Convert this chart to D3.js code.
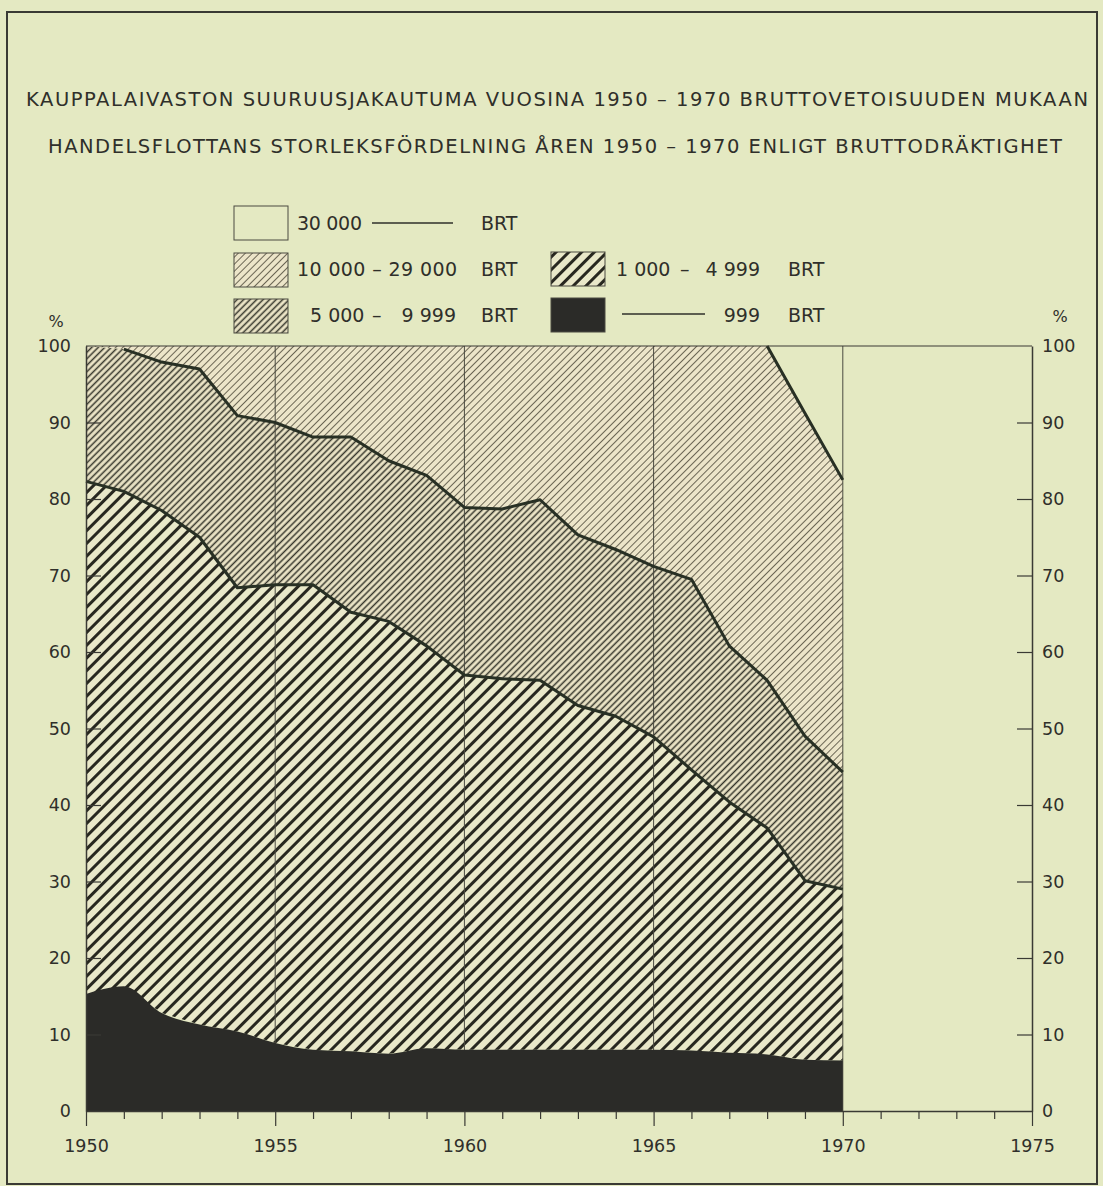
<!DOCTYPE html>
<html>
<head>
<meta charset="utf-8">
<script src="https://cdn.jsdelivr.net/npm/d3@7"></script>
<style>
  html, body { margin: 0; padding: 0; background: #e4e9c2; }
  svg { display: block; }
  text { font-family: "DejaVu Sans", "Liberation Sans", sans-serif; fill: #2f2f2a; }
</style>
</head>
<body>
<script>
// ---- DATA ----
const years = d3.range(1950, 1971);
// share (%) of gross tonnage by size class
const under999 = [15.3,16.3,12.8,11.3,10.4,8.9,8.0,7.8,7.5,8.2,8.0,8.0,8.0,8.0,8.0,8.0,7.9,7.6,7.4,6.7,6.6];
const from1000to4999 = [67.0,64.7,65.7,63.7,58.0,59.9,60.8,57.4,56.5,52.6,49.0,48.5,48.3,45.0,43.6,40.9,36.7,32.8,29.6,23.4,22.4];
const from5000to9999 = [17.7,18.6,19.4,22.0,22.5,21.2,19.3,22.9,21.0,22.3,21.9,22.2,23.6,22.3,21.8,22.3,24.9,20.4,19.3,18.9,15.3];
const from10000to29000 = [0.0,0.4,2.1,3.0,9.1,10.0,11.9,11.9,15.0,16.9,21.1,21.3,20.1,24.7,26.6,28.8,30.5,39.2,43.7,42.2,38.2];
const over30000 = [0,0,0,0,0,0,0,0,0,0,0,0,0,0,0,0,0,0,0,8.8,17.5];
const seriesKeys = ["under999","c1000","c5000","c10000","c30000"];
const yTicks = [0,10,20,30,40,50,60,70,80,90,100];
const xMajor = [1950,1955,1960,1965,1970,1975];
const titleFi = "KAUPPALAIVASTON SUURUUSJAKAUTUMA VUOSINA 1950 – 1970 BRUTTOVETOISUUDEN MUKAAN";
const titleSv = "HANDELSFLOTTANS STORLEKSFÖRDELNING ÅREN 1950 – 1970 ENLIGT BRUTTODRÄKTIGHET";

const table = years.map((y, i) => ({
  year: y, under999: under999[i], c1000: from1000to4999[i], c5000: from5000to9999[i],
  c10000: from10000to29000[i], c30000: over30000[i]
}));

// ---- LAYOUT ----
const W = 1103, H = 1186;
const svg = d3.select("body").append("svg").attr("width", W).attr("height", H);
svg.append("rect").attr("width", W).attr("height", H).attr("fill", "#e4e9c2");

const x = d3.scaleLinear().domain([1950, 1975]).range([86, 1032]);
const y = d3.scaleLinear().domain([0, 100]).range([1111, 346]);

// frame
svg.append("rect").attr("x", 7).attr("y", 12).attr("width", 1090).attr("height", 1172)
  .attr("fill", "none").attr("stroke", "#3a3a34").attr("stroke-width", 2);

// titles
svg.append("text").attr("x", 557).attr("y", 106).attr("text-anchor", "middle")
  .attr("font-size", 19.5).attr("textLength", 1062).attr("lengthAdjust", "spacing").text(titleFi);
svg.append("text").attr("x", 555).attr("y", 153).attr("text-anchor", "middle")
  .attr("font-size", 19.5).attr("textLength", 1014).attr("lengthAdjust", "spacing").text(titleSv);

// patterns
const defs = svg.append("defs");
function hatch(id, spacing, width, color, bg) {
  const p = defs.append("pattern").attr("id", id).attr("patternUnits", "userSpaceOnUse")
    .attr("width", spacing).attr("height", spacing).attr("patternTransform", "rotate(45)");
  p.append("rect").attr("width", spacing).attr("height", spacing).attr("fill", bg);
  p.append("line").attr("x1", spacing/2).attr("x2", spacing/2).attr("y1", -1).attr("y2", spacing+1)
    .attr("stroke", color).attr("stroke-width", width);
}
hatch("h10000", 5.0, 0.9, "#5c5847", "#ece5c9");
hatch("h5000", 4.6, 1.5, "#34342a", "#ebe4c6");
hatch("h1000", 9.0, 3.0, "#27271f", "#e9e8c9");

const stack = d3.stack().keys(seriesKeys);
const layers = stack(table);
const fills = { under999: "#2b2b28", c1000: "url(#h1000)", c5000: "url(#h5000)", c10000: "url(#h10000)", c30000: "none" };

const areaLin = d3.area().x(d => x(d.data.year)).y0(d => y(d[0])).y1(d => y(d[1]));
const areaSmooth = d3.area().curve(d3.curveMonotoneX).x(d => x(d.data.year)).y0(d => y(d[0])).y1(d => y(d[1]));

// hatched layers
layers.filter(l => l.key !== "under999" && l.key !== "c30000").forEach(l => {
  svg.append("path").attr("d", areaLin(l)).attr("fill", fills[l.key]).attr("stroke", "none");
});

// gridlines
[1955, 1960, 1965, 1970].forEach(yr => {
  svg.append("line").attr("x1", x(yr)).attr("x2", x(yr)).attr("y1", y(100)).attr("y2", y(0))
    .attr("stroke", "#4a4a40").attr("stroke-width", 1);
});

// black layer
svg.append("path").attr("d", areaSmooth(layers[0])).attr("fill", fills.under999);

// boundary lines
const lineGen = d3.line().x(d => x(d.data.year)).y(d => y(d[1]));
function boundary(layer, startIdx) {
  svg.append("path").attr("d", lineGen(layer.slice(startIdx))).attr("fill", "none")
    .attr("stroke", "#283024").attr("stroke-width", 3).attr("stroke-linejoin", "round");
}
boundary(layers[1], 0);
boundary(layers[2], 1);
boundary(layers[3], 18);

// axes
const axisColor = "#3a3a34";
svg.append("line").attr("x1", x(1950)).attr("x2", x(1975)).attr("y1", y(100)).attr("y2", y(100))
  .attr("stroke", axisColor).attr("stroke-width", 1.2);

const gL = svg.append("g").attr("transform", `translate(${x(1950)},0)`)
  .call(d3.axisLeft(y).tickValues(yTicks).tickSizeInner(-15).tickSizeOuter(0).tickPadding(15));
const gR = svg.append("g").attr("transform", `translate(${x(1975)},0)`)
  .call(d3.axisRight(y).tickValues(yTicks).tickSizeInner(-15).tickSizeOuter(0).tickPadding(10));
const gB = svg.append("g").attr("transform", `translate(0,${y(0)})`)
  .call(d3.axisBottom(x).tickValues(d3.range(1950, 1976)).tickSizeOuter(0).tickSizeInner(8)
    .tickPadding(20).tickFormat(d => xMajor.includes(d) ? String(d) : ""));
gB.selectAll(".tick line").attr("y2", d => xMajor.includes(d) ? 15 : 8);

[gL, gR, gB].forEach(g => {
  g.select(".domain").attr("stroke", axisColor).attr("stroke-width", 1.5);
  g.selectAll(".tick line").attr("stroke", axisColor).attr("stroke-width", 1.2);
  g.selectAll(".tick text").attr("font-size", 17.5).attr("fill", "#2f2f2a")
    .attr("font-family", "DejaVu Sans, sans-serif");
});
gL.selectAll(".tick").filter(d => d === 0 || d === 100).select("line").remove();
gR.selectAll(".tick").filter(d => d === 0 || d === 100).select("line").remove();
gB.selectAll(".tick text").attr("dy", "0.71em").attr("y", 29);

svg.append("text").attr("x", 56).attr("y", 327).attr("text-anchor", "middle").attr("font-size", 16).text("%");
svg.append("text").attr("x", 1060).attr("y", 322).attr("text-anchor", "middle").attr("font-size", 16).text("%");

// legend
const lg = svg.append("g");
function box(bx, by, fill) {
  lg.append("rect").attr("x", bx).attr("y", by).attr("width", 54).attr("height", 34)
    .attr("fill", fill).attr("stroke", "#4a4a40").attr("stroke-width", 1);
}
function txt(tx, ty, s, anchor, len) {
  const t = lg.append("text").attr("x", tx).attr("y", ty).attr("font-size", 19)
    .attr("text-anchor", anchor || "start").text(s);
  if (len) t.attr("textLength", len).attr("lengthAdjust", "spacing");
}
box(234, 206, "none");
txt(297, 230, "30 000", null, 65);
lg.append("line").attr("x1", 372).attr("x2", 453).attr("y1", 223).attr("y2", 223).attr("stroke", "#2f2f2a").attr("stroke-width", 1.5);
txt(481, 230, "BRT");

box(234, 253, "url(#h10000)");
txt(297, 276, "10 000 – 29 000", null, 160);
txt(481, 276, "BRT");

box(551, 252, "url(#h1000)");
txt(616, 276, "1 000");
txt(680, 276, "–");
txt(760, 276, "4 999", "end");
txt(788, 276, "BRT");

box(234, 299, "url(#h5000)");
txt(310, 322, "5 000");
txt(372, 322, "–");
txt(456, 322, "9 999", "end");
txt(481, 322, "BRT");

box(551, 298, "#2b2b28");
lg.append("line").attr("x1", 622).attr("x2", 705).attr("y1", 314).attr("y2", 314).attr("stroke", "#2f2f2a").attr("stroke-width", 1.5);
txt(760, 322, "999", "end");
txt(788, 322, "BRT");
</script>
</body>
</html>
